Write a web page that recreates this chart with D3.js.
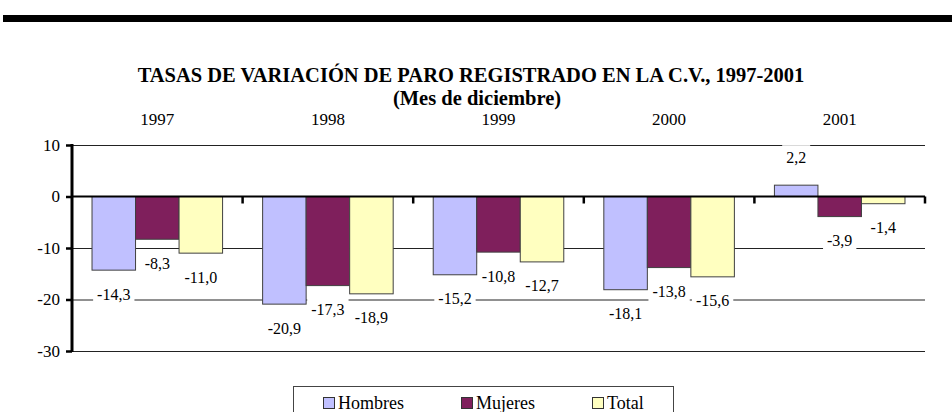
<!DOCTYPE html>
<html>
<head>
<meta charset="utf-8">
<script src="https://cdn.jsdelivr.net/npm/d3@7/dist/d3.min.js"></script>
<style>
  html, body { margin: 0; padding: 0; background: #fff; }
  svg { display: block; }
</style>
</head>
<body>
<svg id="chart" width="952" height="412"></svg>
<script>
const titleText = "TASAS DE VARIACIÓN DE PARO REGISTRADO EN LA C.V., 1997-2001";
const subtitleText = "(Mes de diciembre)";
const years = ["1997", "1998", "1999", "2000", "2001"];
const seriesNames = ["Hombres", "Mujeres", "Total"];
const hombres = [-14.3, -20.9, -15.2, -18.1, 2.2];
const mujeres = [-8.3, -17.3, -10.8, -13.8, -3.9];
const total = [-11.0, -18.9, -12.7, -15.6, -1.4];
const yTicks = [10, 0, -10, -20, -30];
const colors = ["#C0C0FF", "#7F1F5C", "#FFFFC0"];

const FONT = "Liberation Serif";
const seriesValues = [hombres, mujeres, total];
const svg = d3.select("#chart");

function txt(sel) { return sel.attr("font-family", FONT).attr("fill", "#000"); }

// top black band
svg.append("rect").attr("x", 3).attr("y", 15).attr("width", 949).attr("height", 7).attr("fill", "#000");

// titles
txt(svg.append("text")).attr("x", 471).attr("y", 81.5).attr("text-anchor", "middle")
  .attr("font-size", 20.5).attr("font-weight", "bold").text(titleText);
txt(svg.append("text")).attr("x", 477).attr("y", 104.5).attr("text-anchor", "middle")
  .attr("font-size", 20.5).attr("font-weight", "bold").text(subtitleText);

const left = 72, right = 925;
const y = d3.scaleLinear().domain([-30, 10]).range([351, 145]);
const x0 = d3.scaleBand().domain(years).range([left, right]).paddingInner(0).paddingOuter(0);
const x1 = d3.scaleBand().domain(seriesNames).range([0, x0.bandwidth()]).paddingInner(0).paddingOuter(0.46);

// gridlines
svg.append("g").selectAll("line").data(yTicks.filter(d => d !== 0)).join("line")
  .attr("x1", left).attr("x2", right)
  .attr("y1", d => y(d) + 0.5).attr("y2", d => y(d) + 0.5)
  .attr("stroke", "#222").attr("stroke-width", 1);

// year labels on top
txt(svg.append("g").selectAll("text").data(years).join("text"))
  .attr("x", d => x0(d) + x0.bandwidth() / 2).attr("y", 124.5)
  .attr("text-anchor", "middle").attr("font-size", 17).text(d => d);

// bars
const rows = [];
years.forEach((yr, i) => {
  seriesNames.forEach((s, j) => rows.push({ year: yr, series: s, value: seriesValues[j][i], color: colors[j] }));
});

svg.append("g").selectAll("rect").data(rows).join("rect")
  .attr("x", d => x0(d.year) + x1(d.series))
  .attr("y", d => y(Math.max(0, d.value)))
  .attr("width", x1.bandwidth())
  .attr("height", d => Math.abs(y(d.value) - y(0)))
  .attr("fill", d => d.color)
  .attr("stroke", "#404040").attr("stroke-width", 1);

// x axis (zero line) with ticks at category boundaries
svg.append("line").attr("x1", left).attr("x2", right).attr("y1", y(0)).attr("y2", y(0))
  .attr("stroke", "#000").attr("stroke-width", 2);
const bounds = years.map(d => x0(d) + x0.bandwidth());
svg.append("g").selectAll("line").data(bounds).join("line")
  .attr("x1", d => d).attr("x2", d => d)
  .attr("y1", y(0)).attr("y2", y(0) + 7)
  .attr("stroke", "#000").attr("stroke-width", 2.5);

// y axis
const intFmt = d => String(d);
const yAxis = d3.axisLeft(y).tickValues(yTicks).tickSize(6).tickPadding(6).tickFormat(intFmt);
const gy = svg.append("g").attr("transform", `translate(${left},0)`).call(yAxis);
gy.attr("font-family", FONT);
gy.select(".domain").remove();
gy.selectAll(".tick line").attr("stroke", "#000").attr("stroke-width", 2.5);
txt(gy.selectAll(".tick text")).attr("font-size", 17);
svg.append("line").attr("x1", left).attr("x2", left).attr("y1", y(10) - 1).attr("y2", y(-30) + 1)
  .attr("stroke", "#000").attr("stroke-width", 3);

// data labels with white boxes
const fmt = v => v.toFixed(1).replace(".", ",");
const lg = svg.append("g");
rows.forEach(d => {
  const cx = x0(d.year) + x1(d.series) + x1.bandwidth() / 2;
  const cy = d.value < 0 ? y(d.value) + 24 : y(d.value) - 28;
  const g = lg.append("g");
  const t = txt(g.append("text")).attr("x", cx).attr("y", cy + 5.5).attr("text-anchor", "middle")
    .attr("font-size", 16).text(fmt(d.value));
  const w = t.node().getComputedTextLength();
  g.insert("rect", "text").attr("x", cx - w / 2 - 4).attr("y", cy - 12)
    .attr("width", w + 8).attr("height", 24).attr("fill", "#fff");
});

// legend
const legend = svg.append("g");
legend.append("rect").attr("x", 293.5).attr("y", 386.5).attr("width", 380).attr("height", 40)
  .attr("fill", "#fff").attr("stroke", "#444").attr("stroke-width", 1);
const legendX = [323, 461, 592];
seriesNames.forEach((s, j) => {
  legend.append("rect").attr("x", legendX[j] + 0.5).attr("y", 397.5).attr("width", 11).attr("height", 11)
    .attr("fill", colors[j]).attr("stroke", "#333").attr("stroke-width", 1);
  txt(legend.append("text")).attr("x", legendX[j] + 15).attr("y", 409).attr("font-size", 18).text(s);
});
</script>
</body>
</html>
